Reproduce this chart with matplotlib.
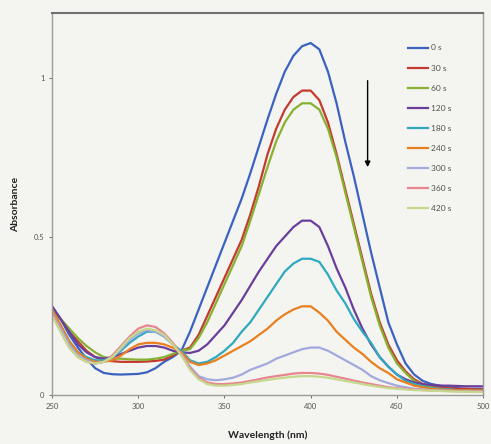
import matplotlib
matplotlib.use("Agg")
import matplotlib.pyplot as plt

plt.rcParams['font.family'] = ['Lato', 'DejaVu Sans']

# wavelength grid (nm)
wavelength = list(range(250, 505, 5))

# absorbance readings, one list per irradiation time
abs_0s = [0.28, 0.24, 0.19, 0.15, 0.115, 0.085, 0.07, 0.066, 0.065, 0.066, 0.067,
          0.072, 0.085, 0.105, 0.12, 0.14, 0.2, 0.27, 0.34, 0.41, 0.48, 0.55, 0.62,
          0.70, 0.785, 0.87, 0.95, 1.02, 1.07, 1.10, 1.11, 1.09, 1.02, 0.92, 0.80,
          0.69, 0.57, 0.45, 0.34, 0.23, 0.16, 0.10, 0.065, 0.045, 0.035, 0.03,
          0.025, 0.022, 0.02, 0.02, 0.02]
abs_30s = [0.27, 0.24, 0.2, 0.17, 0.14, 0.12, 0.11, 0.107, 0.105, 0.105, 0.105,
           0.106, 0.108, 0.112, 0.125, 0.14, 0.15, 0.19, 0.25, 0.31, 0.37, 0.43,
           0.49, 0.57, 0.66, 0.76, 0.84, 0.90, 0.94, 0.96, 0.96, 0.93, 0.86, 0.76,
           0.65, 0.54, 0.43, 0.32, 0.23, 0.16, 0.11, 0.075, 0.05, 0.035, 0.028,
           0.025, 0.022, 0.02, 0.02, 0.018, 0.018]
abs_60s = [0.26, 0.24, 0.21, 0.18, 0.155, 0.135, 0.12, 0.115, 0.115, 0.113, 0.112,
           0.112, 0.115, 0.12, 0.13, 0.14, 0.145, 0.18, 0.23, 0.29, 0.35, 0.41,
           0.47, 0.55, 0.635, 0.72, 0.80, 0.86, 0.90, 0.92, 0.92, 0.90, 0.84, 0.75,
           0.64, 0.53, 0.42, 0.31, 0.22, 0.15, 0.10, 0.07, 0.045, 0.032, 0.025,
           0.02, 0.018, 0.015, 0.015, 0.013, 0.012]
abs_120s = [0.28, 0.24, 0.2, 0.16, 0.135, 0.12, 0.115, 0.12, 0.13, 0.14, 0.15,
            0.155, 0.155, 0.15, 0.14, 0.135, 0.133, 0.14, 0.16, 0.19, 0.22, 0.26,
            0.30, 0.345, 0.39, 0.43, 0.47, 0.50, 0.53, 0.55, 0.55, 0.53, 0.47, 0.40,
            0.34, 0.27, 0.21, 0.16, 0.12, 0.09, 0.065, 0.05, 0.04, 0.035, 0.032,
            0.03, 0.03, 0.029, 0.028, 0.028, 0.028]
abs_180s = [0.27, 0.22, 0.17, 0.135, 0.12, 0.11, 0.11, 0.12, 0.14, 0.165, 0.185,
            0.2, 0.2, 0.185, 0.16, 0.14, 0.11, 0.1, 0.105, 0.12, 0.14, 0.165, 0.2,
            0.23, 0.27, 0.31, 0.35, 0.39, 0.415, 0.43, 0.43, 0.42, 0.38, 0.33, 0.29,
            0.24, 0.2, 0.165, 0.12, 0.09, 0.065, 0.045, 0.035, 0.028, 0.022, 0.02,
            0.018, 0.016, 0.015, 0.015, 0.015]
abs_240s = [0.27, 0.22, 0.17, 0.135, 0.115, 0.105, 0.105, 0.11, 0.125, 0.145, 0.16,
            0.165, 0.165, 0.16, 0.15, 0.135, 0.105, 0.095, 0.1, 0.11, 0.125, 0.14,
            0.155, 0.17, 0.19, 0.21, 0.235, 0.255, 0.27, 0.28, 0.28, 0.26, 0.235,
            0.2, 0.175, 0.15, 0.13, 0.105, 0.085, 0.07, 0.05, 0.04, 0.03, 0.025,
            0.02, 0.018, 0.016, 0.015, 0.015, 0.015, 0.015]
abs_300s = [0.26, 0.21, 0.16, 0.125, 0.11, 0.1, 0.105, 0.12, 0.145, 0.175, 0.195,
            0.205, 0.2, 0.185, 0.16, 0.13, 0.09, 0.06, 0.05, 0.047, 0.05, 0.055,
            0.065, 0.08, 0.09, 0.1, 0.115, 0.125, 0.135, 0.145, 0.15, 0.15, 0.14,
            0.125, 0.11, 0.095, 0.08, 0.06, 0.047, 0.038, 0.03, 0.025, 0.02, 0.018,
            0.016, 0.015, 0.014, 0.013, 0.013, 0.012, 0.012]
abs_360s = [0.26, 0.2, 0.15, 0.12, 0.105, 0.1, 0.105, 0.125, 0.155, 0.185, 0.21,
            0.22, 0.215, 0.195, 0.165, 0.13, 0.085, 0.055, 0.04, 0.035, 0.035,
            0.037, 0.04, 0.045, 0.05, 0.056, 0.06, 0.064, 0.068, 0.07, 0.07, 0.068,
            0.064, 0.058, 0.052, 0.046, 0.04, 0.035, 0.03, 0.025, 0.022, 0.02,
            0.018, 0.016, 0.015, 0.014, 0.013, 0.013, 0.012, 0.012, 0.012]
abs_420s = [0.25, 0.2, 0.15, 0.12, 0.105, 0.1, 0.105, 0.12, 0.15, 0.18, 0.2, 0.21,
            0.205, 0.19, 0.16, 0.125, 0.08, 0.05, 0.035, 0.03, 0.03, 0.032, 0.035,
            0.04, 0.044, 0.048, 0.052, 0.055, 0.058, 0.06, 0.06, 0.058, 0.055,
            0.05, 0.045, 0.04, 0.035, 0.03, 0.026, 0.022, 0.02, 0.018, 0.016,
            0.015, 0.014, 0.013, 0.012, 0.011, 0.011, 0.01, 0.01]

labels = ["0 s", "30 s", "60 s", "120 s", "180 s", "240 s", "300 s", "360 s", "420 s"]
series = [abs_0s, abs_30s, abs_60s, abs_120s, abs_180s, abs_240s, abs_300s,
          abs_360s, abs_420s]
colors = ["#3b62c2", "#c53a2e", "#86b133", "#6a3f9c", "#2fa9c2", "#ea7f1f",
          "#a1a9dd", "#e7868e", "#c5d98e"]

bg = "#f4f5f0"
fig = plt.figure(figsize=(4.91, 4.44), dpi=100, facecolor=bg)
ax = fig.add_axes([0.106, 0.11, 0.878, 0.861], facecolor=bg)

for y, lab, c in zip(series, labels, colors):
    ax.plot(wavelength, y, color=c, lw=1.6, label=lab)

ax.set_xlim(250, 500)
ax.set_ylim(0, 1.205)
ax.set_xticks([250, 300, 350, 400, 450, 500])
ax.set_yticks([0, 0.5, 1])
ax.set_yticklabels(["0", "0.5", "1"])
ax.tick_params(labelsize=5.5, colors="#555555", length=2, width=0.6, direction="out")

for s in ax.spines.values():
    s.set_color("#9a9a9a")
    s.set_linewidth(1.0)
ax.spines["top"].set_color("#707070")
ax.spines["top"].set_linewidth(1.5)

ax.set_xlabel("Wavelength (nm)", fontsize=7.5, fontweight="bold", color="#222222", labelpad=15)
ax.set_ylabel("Absorbance", fontsize=7.5, fontweight="bold", color="#222222", labelpad=10)

# arrow showing decrease with time
ax.annotate("", xy=(433, 0.71), xytext=(433, 1.0),
            arrowprops=dict(arrowstyle="-|>", color="black", lw=1.0, mutation_scale=8))

leg = ax.legend(loc="upper left", bbox_to_anchor=(0.819, 0.926), frameon=False,
                fontsize=6, handlelength=2.4, labelspacing=1.57, handletextpad=0.25,
                borderaxespad=0)
for t in leg.get_texts():
    t.set_color("#505050")

fig.savefig("out.png", dpi=100, facecolor=bg)
